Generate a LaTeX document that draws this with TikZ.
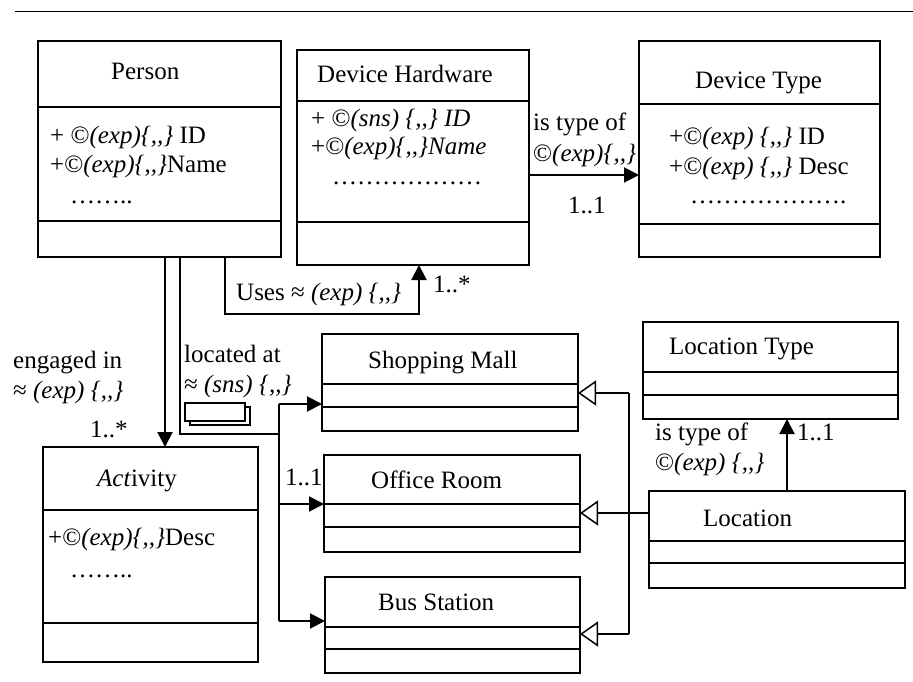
\documentclass[tikz,border=0pt]{standalone}
\usepackage{fontspec}
\setmainfont[Ligatures=NoCommon]{Liberation Serif}
\newcommand{\cc}{\{,{},\}}
\usetikzlibrary{arrows.meta}
\begin{document}
\begin{tikzpicture}[x=1pt,y=-1pt,
  font=\fontsize{25}{30}\selectfont,
  cls/.style={draw,line width=1.8pt,anchor=north west,inner sep=0pt,outer sep=0pt},
  divl/.style={line width=1.5pt},
  txt/.style={inner sep=0pt,anchor=base west},
  arr/.style={line width=2pt,-{Triangle[length=15pt,width=15pt]}},
  ln/.style={line width=1.7pt},
  gen/.style={line width=1.5pt,-{Triangle[open,length=18pt,width=25pt,line width=1.5pt]}}]
\useasboundingbox (0,0) rectangle (913,682);
\fill[white] (0,0) rectangle (913,682);
% top rule
\draw[line width=1.4pt] (15,11.5) -- (913,11.5);

% ---------- class boxes ----------
\node[cls,minimum width=243pt,minimum height=216pt] (person) at (38,41) {};
\draw[divl] (person.west |- 0,107) -- (person.east |- 0,107);
\draw[divl] (person.west |- 0,221) -- (person.east |- 0,221);

\node[cls,minimum width=232pt,minimum height=215pt] (hw) at (297,50) {};
\draw[divl] (hw.west |- 0,101) -- (hw.east |- 0,101);
\draw[divl] (hw.west |- 0,222) -- (hw.east |- 0,222);

\node[cls,minimum width=241pt,minimum height=216pt] (dt) at (639,41) {};
\draw[divl] (dt.west |- 0,104) -- (dt.east |- 0,104);
\draw[divl] (dt.west |- 0,224) -- (dt.east |- 0,224);

\node[cls,minimum width=215pt,minimum height=215pt] (act) at (43,447) {};
\draw[divl] (act.west |- 0,510) -- (act.east |- 0,510);
\draw[divl] (act.west |- 0,623) -- (act.east |- 0,623);

\node[cls,minimum width=256pt,minimum height=97pt] (mall) at (322,334) {};
\draw[divl] (mall.west |- 0,384) -- (mall.east |- 0,384);
\draw[divl] (mall.west |- 0,407) -- (mall.east |- 0,407);

\node[cls,minimum width=256pt,minimum height=97pt] (office) at (324,455) {};
\draw[divl] (office.west |- 0,504) -- (office.east |- 0,504);
\draw[divl] (office.west |- 0,527) -- (office.east |- 0,527);

\node[cls,minimum width=255pt,minimum height=96pt] (bus) at (325,577) {};
\draw[divl] (bus.west |- 0,627) -- (bus.east |- 0,627);
\draw[divl] (bus.west |- 0,649) -- (bus.east |- 0,649);

\node[cls,minimum width=255pt,minimum height=97pt] (ltype) at (643,322) {};
\draw[divl] (ltype.west |- 0,372) -- (ltype.east |- 0,372);
\draw[divl] (ltype.west |- 0,395) -- (ltype.east |- 0,395);

\node[cls,minimum width=256pt,minimum height=97pt] (loc) at (649,491) {};
\draw[divl] (loc.west |- 0,541) -- (loc.east |- 0,541);
\draw[divl] (loc.west |- 0,563) -- (loc.east |- 0,563);

% ---------- class texts ----------
\node[txt] (personT) at (111,80) {Person};
\node[txt] (personA1) at (50,143) {+ ©\textit{(exp)\cc} ID};
\node[txt] (personA2) at (50,172) {+©\textit{(exp)\cc}Name};
\node[txt] (personD) at (70,203) {……..};

\node[txt] (hwT) at (317,83) {Device Hardware};
\node[txt] (hwA1) at (311,127) {+ ©\textit{(sns) \cc{} ID}};
\node[txt] (hwA2) at (311,155) {+©\textit{(exp)\cc Name}};
\node[txt] (hwD) at (332,185) {………………};

\node[txt] (dtT) at (695,89) {Device Type};
\node[txt] (dtA1) at (669,145) {+©\textit{(exp) \cc} ID};
\node[txt] (dtA2) at (669,175) {+©\textit{(exp) \cc} Desc};
\node[txt] (dtD) at (690,204) {……………….};

\node[txt] (actT) at (97,486) {\textit{Act}ivity};
\node[txt] (actA1) at (48,545) {+©\textit{(exp)\cc}Desc};
\node[txt] (actD) at (70,577) {……..};

\node[txt] (mallT) at (368,368) {Shopping Mall};
\node[txt] (officeT) at (371,488) {Office Room};
\node[txt] (busT) at (378,610) {Bus Station};
\node[txt] (ltypeT) at (669,354) {Location Type};
\node[txt] (locT) at (703,526) {Location};

% ---------- connectors ----------
% Person -> Activity
\draw[arr] (person.south -| 165,0) -- (act.north -| 165,0);
% Person -> locations
\coordinate (lj) at (279,434);
\draw[ln] (person.south -| 180,0) |- (lj);
\draw[ln] (279,404) -- (279,621);
\draw[arr] (279,404) -- (mall.west |- 0,404);
\draw[arr] (279,504) -- (office.west |- 0,504);
\draw[arr] (279,621) -- (bus.west |- 0,621);
% multiplicity icon
\draw[line width=1.4pt,fill=white] (190,407) rectangle (250,425);
\draw[line width=1.4pt,fill=white] (185,403) rectangle (245,421);
% Uses
\coordinate (u1) at (225,314);
\coordinate (u2) at (419,314);
\draw[arr] (person.south -| u1) -- (u1) -- (u2) -- (hw.south -| u2);
% is type of (device)
\draw[arr] (hw.east |- 0,175) -- (dt.west |- 0,175);
% Location -> Location Type
\draw[arr] (loc.north -| 787,0) -- (ltype.south -| 787,0);
% generalisation
\draw[gen] (loc.west |- 0,513) -- (office.east |- 0,513);
\draw[ln] (629,393) -- (629,634);
\draw[gen] (629,393) -- (mall.east |- 0,393);
\draw[gen] (629,634) -- (bus.east |- 0,634);

% ---------- connector labels ----------
\node[txt] (l1) at (533,131) {is type of};
\node[txt] (l2) at (533,161) {©\textit{(exp)\cc}};
\node[txt] (l3) at (568,213) {1..1};
\node[txt] (l4) at (236,300) {Uses ≈ \textit{(exp) \cc}};
\node[txt] (l5) at (433,292) {1..*};
\node[txt] (l6) at (13,368) {engaged in};
\node[txt] (l7) at (13,398) {≈ \textit{(exp) \cc}};
\node[txt] (l8) at (90,437) {1..*};
\node[txt] (l9) at (184,362) {located at};
\node[txt] (l10) at (184,392) {≈ \textit{(sns) \cc}};
\node[txt] (l11) at (285,485) {1..1};
\node[txt] (l12) at (655,440) {is type of};
\node[txt] (l13) at (655,470) {©\textit{(exp) \cc}};
\node[txt] (l14) at (797,440) {1..1};
\end{tikzpicture}
\end{document}
